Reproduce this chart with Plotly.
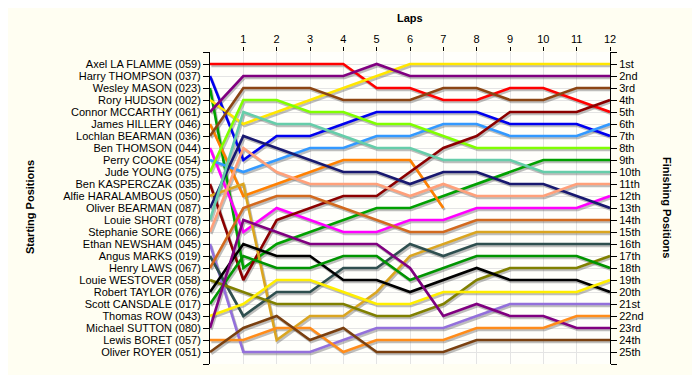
import plotly.graph_objects as go

laps = list(range(13))

starting_labels = [
    "Axel LA FLAMME (059)", "Harry THOMPSON (037)", "Wesley MASON (023)", "Rory HUDSON (002)",
    "Connor MCCARTHY (061)", "James HILLERY (046)", "Lochlan BEARMAN (036)", "Ben THOMSON (044)",
    "Perry COOKE (054)", "Jude YOUNG (075)", "Ben KASPERCZAK (035)", "Alfie HARALAMBOUS (050)",
    "Oliver BEARMAN (087)", "Louie SHORT (078)", "Stephanie SORE (066)", "Ethan NEWSHAM (045)",
    "Angus MARKS (019)", "Henry LAWS (067)", "Louie WESTOVER (058)", "Robert TAYLOR (076)",
    "Scott CANSDALE (017)", "Thomas ROW (043)", "Michael SUTTON (080)", "Lewis BORET (057)",
    "Oliver ROYER (051)",
]

finishing_labels = [
    "1st", "2nd", "3rd", "4th", "5th", "6th", "7th", "8th", "9th", "10th", "11th", "12th", "13th",
    "14th", "15th", "16th", "17th", "18th", "19th", "20th", "21st", "22nd", "23rd", "24th", "25th",
]

# Position of each driver at laps 0..12 (None = retired)
pos_axel      = [1, 1, 1, 1, 1, 3, 3, 4, 4, 3, 3, 4, 5]
pos_harry     = [2, 9, 7, 7, 6, 5, 5, 5, 5, 6, 6, 6, 7]
pos_wesley    = [3, 18, 16, 15, 14, 13, 13, 12, 11, 10, 9, 9, 9]
pos_rory      = [4, 6, 5, 4, 3, 2, 1, 1, 1, 1, 1, 1, 1]
pos_connor    = [5, 2, 2, 2, 2, 1, 2, 2, 2, 2, 2, 2, 2]
pos_james     = [6, 12, 11, 10, 9, 9, 9, 13, None, None, None, None, None]
pos_lochlan   = [7, 3, 3, 3, 4, 4, 4, 3, 3, 4, 4, 3, 3]
pos_benthom   = [8, 15, 13, 14, 15, 15, 14, 14, 13, 13, 13, 13, 12]
pos_perry     = [9, 10, 9, 8, 8, 7, 7, 6, 6, 7, 7, 7, 6]
pos_jude      = [10, 4, 4, 5, 5, 6, 6, 7, 8, 8, 8, 8, 8]
pos_benkas    = [11, 19, 14, 13, 12, 12, 10, 8, 7, 5, 5, 5, 4]
pos_alfie     = [12, 11, 24, 22, 22, 20, 17, 16, 15, 15, 15, 15, 15]
pos_oliverb   = [13, 7, 8, 9, 10, 10, 11, 10, 10, 11, 11, 12, 13]
pos_louies    = [14, 5, 6, 6, 7, 8, 8, 9, 9, 9, 10, 10, 10]
pos_stephanie = [15, 8, 10, 11, 11, 11, 12, 11, 12, 12, 12, 11, 11]
pos_ethan     = [16, 25, 25, 25, 24, 23, 23, 23, 22, 21, 21, 21, 21]
pos_angus     = [17, 22, 20, 20, 18, 18, 16, 17, 16, 16, 16, 16, 16]
pos_henry     = [18, 13, 12, 12, 13, 14, 15, 15, 14, 14, 14, 14, 14]
pos_louiew    = [19, 20, 21, 21, 21, 22, 22, 21, 19, 18, 18, 18, 17]
pos_robert    = [20, 16, 17, 17, 19, 19, 20, 19, 18, 19, 19, 19, 20]
pos_scott     = [21, 17, 18, 18, 17, 17, 19, 18, 17, 17, 17, 17, 18]
pos_thomas    = [22, 21, 19, 19, 20, 21, 21, 20, 20, 20, 20, 20, 19]
pos_michael   = [23, 14, 15, 16, 16, 16, 18, 22, 21, 22, 22, 23, 23]
pos_lewis     = [24, 24, 23, 23, 25, 24, 24, 24, 23, 23, 23, 22, 22]
pos_olivero   = [25, 23, 22, 24, 23, 25, 25, 25, 24, 24, 24, 24, 24]

series = [
    pos_axel, pos_harry, pos_wesley, pos_rory, pos_connor, pos_james, pos_lochlan, pos_benthom,
    pos_perry, pos_jude, pos_benkas, pos_alfie, pos_oliverb, pos_louies, pos_stephanie, pos_ethan,
    pos_angus, pos_henry, pos_louiew, pos_robert, pos_scott, pos_thomas, pos_michael, pos_lewis,
    pos_olivero,
]

colors = [
    "#FF0000", "#0000EE", "#00A000", "#FFE600", "#800080", "#FF8000", "#8B4513", "#FF00FF",
    "#3399FF", "#80FF00", "#8B0000", "#DAA520", "#191970", "#66CDAA", "#FFA07A", "#9370DB",
    "#2F4F4F", "#D2691E", "#808000", "#000000", "#009400", "#FFEE00", "#800080", "#FF8C1A",
    "#7A4010",
]

fig = go.Figure()

# drop shadows
for vals in series:
    fig.add_trace(go.Scatter(
        x=[l + 0.04 for l in laps],
        y=[None if v is None else v + 0.16 for v in vals],
        mode="lines", line=dict(color="rgba(110,110,110,0.45)", width=2.6),
        hoverinfo="skip", showlegend=False,
    ))

for name, vals, col in zip(starting_labels, series, colors):
    fig.add_trace(go.Scatter(
        x=laps, y=vals, mode="lines", name=name,
        line=dict(color=col, width=2.6), showlegend=False,
    ))

# invisible trace to activate right axis
fig.add_trace(go.Scatter(x=[0], y=[1], yaxis="y2", mode="markers",
                         marker=dict(opacity=0), hoverinfo="skip", showlegend=False))

FONT = "Arial, Liberation Sans, sans-serif"
tick_font = dict(family=FONT, size=11, color="#000000")
yticks = list(range(0, 27))
left_text = [""] + starting_labels + [""]
right_text = [""] + finishing_labels + [""]

fig.update_layout(
    width=692, height=367,
    margin=dict(l=202, r=90, t=44, b=11),
    paper_bgcolor="#FFFEF2",
    plot_bgcolor="#FFFFFB",
    xaxis=dict(
        side="top", range=[0, 12], tickvals=list(range(1, 13)),
        showgrid=True, gridcolor="#E4E4E4", gridwidth=1,
        ticks="outside", ticklen=4, tickcolor="#000", showline=False,
        zeroline=False, tickfont=tick_font,
    ),
    yaxis=dict(
        range=[26, 0], tickvals=yticks, ticktext=left_text,
        showgrid=True, gridcolor="#E4E4E4", gridwidth=1,
        ticks="outside", ticklen=6, tickcolor="#000", showline=True, linecolor="#000",
        linewidth=1, zeroline=False, tickfont=tick_font,
    ),
    yaxis2=dict(
        overlaying="y", side="right", range=[26, 0], tickvals=yticks, ticktext=right_text,
        showgrid=False, ticks="outside", ticklen=6, tickcolor="#000", showline=True,
        linecolor="#000", linewidth=1, zeroline=False, tickfont=tick_font,
    ),
    annotations=[
        dict(text="<b>Laps</b>", xref="paper", yref="paper", x=0.5, y=(364 - 18) / 312,
             xanchor="center", yanchor="middle", showarrow=False,
             font=dict(family=FONT, size=11, color="#000")),
        dict(text="<b>Starting Positions</b>", xref="paper", yref="paper",
             x=(30 - 210) / 400, y=(364 - 207) / 312, xanchor="center", yanchor="middle",
             textangle=-90, showarrow=False, font=dict(family=FONT, size=11, color="#000")),
        dict(text="<b>Finishing Positions</b>", xref="paper", yref="paper",
             x=(667 - 210) / 400, y=(364 - 207) / 312, xanchor="center", yanchor="middle",
             textangle=90, showarrow=False, font=dict(family=FONT, size=11, color="#000")),
    ],
)

fig.write_html("out.html")
